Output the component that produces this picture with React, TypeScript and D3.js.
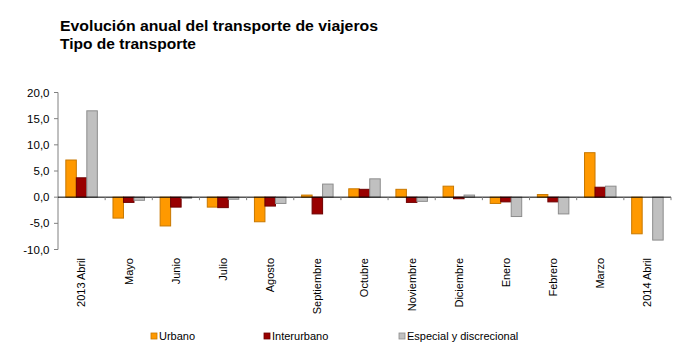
import React from "react";
import * as d3 from "d3";

const categories = ["2013 Abril", "Mayo", "Junio", "Julio", "Agosto", "Septiembre", "Octubre", "Noviembre", "Diciembre", "Enero", "Febrero", "Marzo", "2014 Abril"];
const urbano = [7.1, -4.0, -5.5, -1.9, -4.7, 0.4, 1.6, 1.5, 2.1, -1.2, 0.5, 8.5, -7.0];
const interurbano = [3.7, -1.0, -1.9, -2.0, -1.7, -3.2, 1.5, -1.0, -0.3, -0.9, -0.9, 1.9, 0.0];
const especial = [16.5, -0.6, -0.2, -0.4, -1.2, 2.5, 3.5, -0.8, 0.4, -3.7, -3.2, 2.1, -8.2];
const seriesNames = ["Urbano", "Interurbano", "Especial y discrecional"];
const yTicks = [-10, -5, 0, 5, 10, 15, 20];

const fills = ["#FF9900", "#990000", "#C0C0C0"];
const strokes = ["#C87800", "#6E0000", "#8C8C8C"];
const font = "Arial, 'Liberation Sans', sans-serif";

export default function App() {
  const W = 700, H = 357;
  const left = 58, right = 671, top = 92.5, bottom = 249.5;
  const y = d3.scaleLinear().domain([-10, 20]).range([bottom, top]);
  const x0 = d3.scaleBand().domain(categories).range([left, right]).paddingInner(0).paddingOuter(0);
  const groupW = 31.5;
  const x1 = d3.scaleBand().domain(seriesNames).range([0, groupW]);
  const data = [urbano, interurbano, especial];
  const fmt = (v: number) => d3.format(".1f")(v).replace(".", ",").replace("−", "-");
  const legendX = [151, 264, 399];

  return (
    <svg width={W} height={H} style={{ position: "absolute", left: 0, top: 0, background: "#fff" }} fontFamily={font}>
      <text x={60} y={31} fontSize={14.5} fontWeight="bold" fill="#000" textLength={318} lengthAdjust="spacingAndGlyphs">Evolución anual del transporte de viajeros</text>
      <text x={60} y={49} fontSize={14.5} fontWeight="bold" fill="#000" textLength={136} lengthAdjust="spacingAndGlyphs">Tipo de transporte</text>

      {/* y axis */}
      <line x1={left} x2={left} y1={y(20)} y2={y(-10)} stroke="#808080" strokeWidth={1} />
      {yTicks.map((t) => (
        <g key={t}>
          <line x1={left - 4} x2={left} y1={y(t)} y2={y(t)} stroke="#808080" />
          <text x={49.5} y={y(t)} dy="0.35em" textAnchor="end" fontSize={11.5} fill="#000">{fmt(t)}</text>
        </g>
      ))}

      {/* bars */}
      {categories.map((c, i) => {
        const gx = (x0(c) as number) + (x0.bandwidth() - groupW) / 2;
        return (
          <g key={c}>
            {data.map((s, k) => {
              const v = s[i];
              const y0 = y(0), yv = y(v);
              const h = Math.abs(yv - y0);
              if (h < 0.01) return null;
              return (
                <rect key={k} x={gx + (x1(seriesNames[k]) as number)} y={Math.min(y0, yv)} width={x1.bandwidth()} height={h}
                  fill={fills[k]} stroke={strokes[k]} strokeWidth={1} />
              );
            })}
          </g>
        );
      })}

      {/* x axis at zero */}
      <line x1={left} x2={right} y1={y(0)} y2={y(0)} stroke="#000" strokeWidth={1} />
      {categories.map((c, i) => (
        <line key={"t" + i} x1={(x0(c) as number) + x0.bandwidth()} x2={(x0(c) as number) + x0.bandwidth()} y1={y(0)} y2={y(0) + 3} stroke="#808080" />
      ))}

      {/* category labels */}
      {categories.map((c) => {
        const cx = (x0(c) as number) + x0.bandwidth() / 2;
        return (
          <text key={"l" + c} transform={`translate(${cx},258) rotate(-90)`} dy="0.35em" textAnchor="end" fontSize={11} fill="#000">{c}</text>
        );
      })}

      {/* legend */}
      {seriesNames.map((n, k) => (
        <g key={n}>
          <rect x={legendX[k]} y={333} width={6} height={6} fill={fills[k]} stroke={strokes[k]} strokeWidth={0.8} />
          <text x={legendX[k] + 8} y={336} dy="0.35em" fontSize={11} fill="#000">{n}</text>
        </g>
      ))}
    </svg>
  );
}
